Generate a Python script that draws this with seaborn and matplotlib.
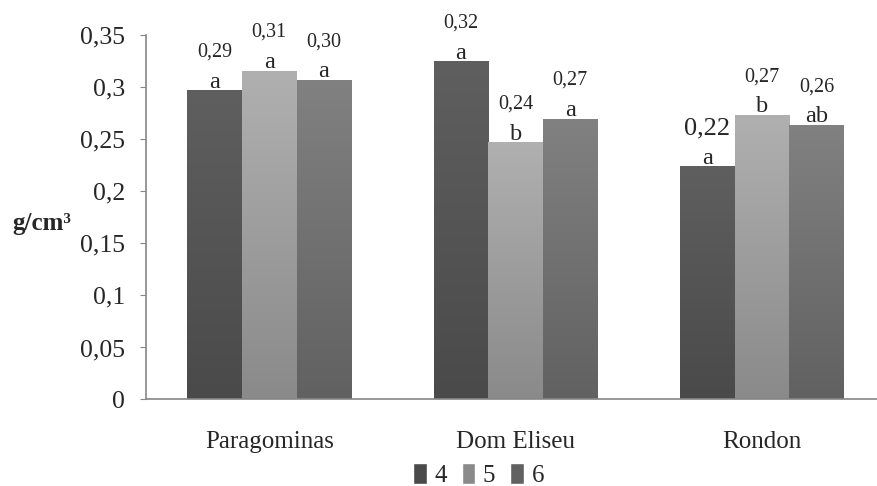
import numpy as np
import pandas as pd
import matplotlib
matplotlib.use('Agg')
import matplotlib.pyplot as plt
from matplotlib.colors import LinearSegmentedColormap
from matplotlib.patches import Patch
import seaborn as sns

# dados
locais = ['Paragominas', 'Dom Eliseu', 'Rondon']
grupos = ['4', '5', '6']
dens_4 = [0.297, 0.325, 0.224]
dens_5 = [0.316, 0.247, 0.2735]
dens_6 = [0.307, 0.270, 0.264]
rot_4 = ['0,29', '0,32', '0,22']
rot_5 = ['0,31', '0,24', '0,27']
rot_6 = ['0,30', '0,27', '0,26']
letras_4 = ['a', 'a', 'a']
letras_5 = ['a', 'b', 'b']
letras_6 = ['a', 'a', 'ab']
yticks = [0, 0.05, 0.1, 0.15, 0.2, 0.25, 0.3, 0.35]

df = pd.DataFrame({
    'local': locais * 3,
    'grupo': [g for g in grupos for _ in locais],
    'dens': dens_4 + dens_5 + dens_6,
})

sns.set_style('white')
plt.rcParams['font.family'] = ['Liberation Serif', 'DejaVu Serif']

# cores (base, topo) do degrade
cores = {'4': ('#4a4a4a', '#5f5f5f'), '5': ('#8a8a8a', '#b0b0b0'), '6': ('#616161', '#818181')}

fig = plt.figure(figsize=(8.78, 4.86), dpi=100)
ax = fig.add_axes([0.1663, 0.178, 0.842, 0.7494])
sns.barplot(data=df, x='local', y='dens', hue='grupo', order=locais, hue_order=grupos,
            palette={g: cores[g][0] for g in grupos}, width=0.665, gap=0,
            legend=False, ax=ax, linewidth=0)

# degrade nas barras
grad = np.linspace(1, 0, 256).reshape(-1, 1)
for i, bar in enumerate(ax.patches):
    g = grupos[i // 3]
    cmap = LinearSegmentedColormap.from_list('c' + g, [cores[g][0], cores[g][1]])
    x0, y0 = bar.get_x(), bar.get_y()
    w, h = bar.get_width(), bar.get_height()
    im = ax.imshow(grad, extent=[x0, x0 + w, y0, y0 + h], aspect='auto',
                   cmap=cmap, vmin=0, vmax=1, zorder=2)
    im.set_clip_path(bar)
    bar.set_facecolor('none')

ax.set_xlim(-0.5, 2.5)
ax.set_ylim(0, 0.35)

# rotulos
rotulos = rot_4 + rot_5 + rot_6
letras = letras_4 + letras_5 + letras_6
for i, bar in enumerate(ax.patches):
    xc = bar.get_x() + bar.get_width() / 2
    h = bar.get_height()
    ax.annotate(letras[i], (xc, h), xytext=(0, 2), textcoords='offset points',
                ha='center', va='baseline', fontsize=17.5)
    fs = 19 if i == 2 else 14.5
    ax.annotate(rotulos[i], (xc, h), xytext=(0, 27.5), textcoords='offset points',
                ha='center', va='center', fontsize=fs)

# eixos
ax.set_yticks(yticks)
ax.set_yticklabels([f'{v:g}'.replace('.', ',') for v in yticks], fontsize=18.5)
ax.set_xticks([-0.5, 0.5, 1.5, 2.5])
ax.set_xticklabels([])
ax.set_xticks([0, 1, 2], minor=True)
ax.set_xticklabels(locais, minor=True, fontsize=18)
ax.tick_params(axis='x', which='minor', length=0, pad=23)
ax.tick_params(axis='x', which='major', length=4.5, color='#868686', direction='out')
ax.tick_params(axis='y', length=4, color='#868686', direction='out', pad=11, left=True)
ax.set_xlabel('')
ax.set_ylabel('')
sns.despine(ax=ax)
for s in ['left', 'bottom']:
    ax.spines[s].set_color('#868686')
    ax.spines[s].set_linewidth(1.2)

fig.text(0.048, 0.54, 'g/cm³', fontsize=18, fontweight='bold', ha='center', va='center')

handles = [Patch(facecolor=cores[g][0], label=g) for g in grupos]
fig.legend(handles=handles, loc='center', bbox_to_anchor=(0.545, 0.023), ncol=3,
           frameon=False, fontsize=18, handlelength=0.55, handleheight=0.9,
           handletextpad=0.3, columnspacing=0.6, borderpad=0)

fig.savefig('out.png', dpi=100)
